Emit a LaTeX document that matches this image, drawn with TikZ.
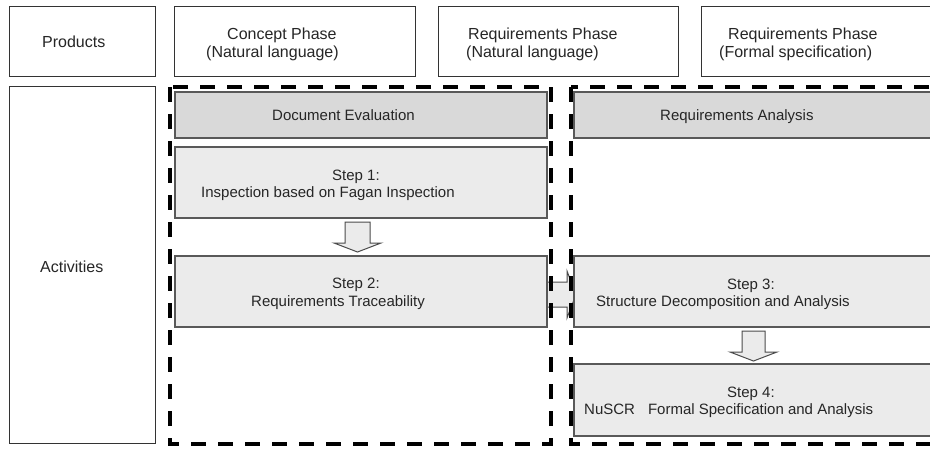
\documentclass[tikz,border=0pt]{standalone}
\usepackage{fontspec}
\setmainfont{Liberation Sans}
\begin{document}
\begin{tikzpicture}[x=1pt,y=-1pt,
  box/.style={anchor=north west, inner sep=0pt, outer sep=0pt},
  hdr/.style={box, draw=black!80, line width=1pt, fill=white},
  darkbox/.style={box, draw=black!65, line width=1.3pt, fill=black!15},
  lightbox/.style={box, draw=black!65, line width=1.3pt, fill=black!8},
  blk/.style={draw=black!70, line width=1pt, fill=black!8, line join=miter},
  phasebox/.style={draw=black, line width=4pt, dash pattern=on 15pt off 12pt},
  big/.style={font=\fontsize{16}{19}\selectfont, text=black!85, inner sep=0pt, anchor=base west},
  sm/.style={font=\fontsize{15}{18}\selectfont, text=black!85, inner sep=0pt, anchor=base west}]
\clip (0,0) rectangle (930,448);
\fill[white] (0,0) rectangle (930,448);

% header row
\node[hdr, minimum width=146pt, minimum height=70pt] (prod) at (9,6) {};
\node[hdr, minimum width=241pt, minimum height=70pt] (concept) at (174,6) {};
\node[hdr, minimum width=240pt, minimum height=70pt] (reqnl) at (438,6) {};
\node[hdr, minimum width=250pt, minimum height=70pt] (reqfs) at (701,6) {};
\node[hdr, minimum width=146pt, minimum height=357pt] (act) at (9,86) {};

\node[big] (prodt) at (42,47) {Products};
\node[big] (concept1) at (227,39) {Concept Phase};
\node[big] (concept2) at (206,57) {(Natural language)};
\node[big] (reqnl1) at (468,39) {Requirements Phase};
\node[big] (reqnl2) at (466,57) {(Natural language)};
\node[big] (reqfs1) at (728,39) {Requirements Phase};
\node[big] (reqfs2) at (719,57) {(Formal specification)};
\node[big] (actt) at (40,272) {Activities};

% arrows
\draw[blk] (345,222) -- (370,222) -- (370,243) -- (381,243) -- (357.5,252) -- (334,243) -- (345,243) -- cycle;
\draw[blk] (742,331) -- (765,331) -- (765,352) -- (777,352) -- (753.5,361) -- (730,352) -- (742,352) -- cycle;
\draw[blk] (540,282) -- (567,282) -- (567,271) -- (576,294.5) -- (567,318) -- (567,307) -- (540,307) -- cycle;

% activity boxes
\node[darkbox, minimum width=372pt, minimum height=46pt] (doceval) at (175,92) {};
\node[darkbox, minimum width=380pt, minimum height=46pt] (reqana) at (574,92) {};
\node[lightbox, minimum width=372pt, minimum height=71pt] (s1) at (175,147) {};
\node[lightbox, minimum width=372pt, minimum height=71pt] (s2) at (175,256) {};
\node[lightbox, minimum width=380pt, minimum height=71pt] (s3) at (574,256) {};
\node[lightbox, minimum width=380pt, minimum height=72pt] (s4) at (574,364) {};

\node[sm] (docevalt) at (272,120.5) {Document Evaluation};
\node[sm] (reqanat) at (660,120.5) {Requirements Analysis};
\node[sm] (s1a) at (332,180.5) {Step 1:};
\node[sm] (s1b) at (201,197.5) {Inspection based on Fagan Inspection};
\node[sm] (s2a) at (332,288.5) {Step 2:};
\node[sm] (s2b) at (251,306.5) {Requirements Traceability};
\node[sm] (s3a) at (727,289.5) {Step 3:};
\node[sm] (s3b) at (596,306.5) {Structure Decomposition and Analysis};
\node[sm] (s4a) at (727,397.5) {Step 4:};
\node[sm] (s4b) at (584,414.5) {NuSCR\hspace{13pt}Formal Specification and Analysis};

% phase groupings
\draw[phasebox] (170,87) rectangle (551,444);
\draw[phasebox] (571,87) rectangle (960,444);
\end{tikzpicture}
\end{document}
